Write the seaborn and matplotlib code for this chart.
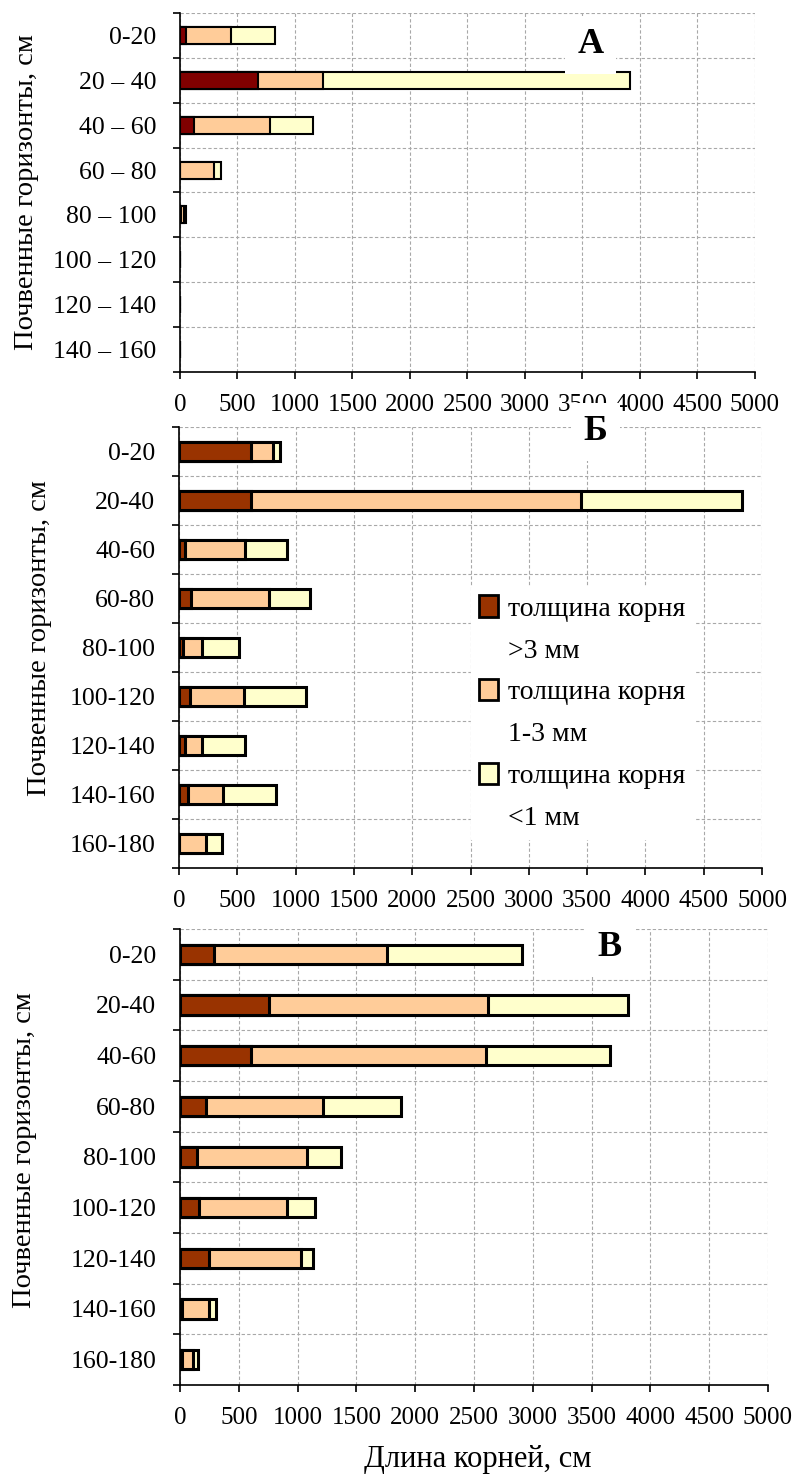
import matplotlib
matplotlib.use("Agg")
import matplotlib.pyplot as plt
import seaborn as sns
import pandas as pd
from matplotlib.patches import Patch

# Длина корней по горизонтам (см), три фракции толщины корня
cats_a = ['0-20', '20 – 40', '40 – 60', '60 – 80', '80 – 100',
          '100 – 120', '120 – 140', '140 – 160']
thick_a = [50, 680, 125, 0, 8, 0, 0, 0]
mid_a = [395, 565, 660, 300, 30, 0, 0, 0]
thin_a = [385, 2670, 375, 60, 16, 0, 0, 0]

cats_b = ['0-20', '20-40', '40-60', '60-80', '80-100',
          '100-120', '120-140', '140-160', '160-180']
thick_b = [615, 615, 50, 100, 30, 95, 50, 80, 0]
mid_b = [190, 2830, 520, 670, 170, 465, 150, 295, 228]
thin_b = [65, 1380, 360, 350, 315, 525, 365, 455, 137]

cats_c = ['0-20', '20-40', '40-60', '60-80', '80-100',
          '100-120', '120-140', '140-160', '160-180']
thick_c = [290, 755, 600, 225, 145, 165, 245, 15, 15]
mid_c = [1470, 1865, 2005, 995, 935, 745, 780, 230, 95]
thin_c = [1145, 1190, 1050, 660, 290, 240, 110, 60, 45]

legend_names = ['толщина корня', 'толщина корня', 'толщина корня']
legend_sizes = ['>3 мм', '1-3 мм', '<1 мм']
ylabel = 'Почвенные горизонты, см'
xlabel = 'Длина корней, см'

plt.rcParams['font.family'] = ['Liberation Serif', 'DejaVu Serif']

C_MID = '#FFCC99'
C_THIN = '#FFFFCC'

fig = plt.figure(figsize=(7.97, 14.79), dpi=100)


def draw_panel(ax, cats, thick, mid, thin, dark, lw, letter, lx, ly):
    df = pd.DataFrame({'cat': cats, 'thick': thick, 'mid': mid, 'thin': thin})
    df['s2'] = df['thick'] + df['mid']
    df['s3'] = df['s2'] + df['thin']
    # накопленные суммы, рисуем от большей к меньшей
    for col, colr in [('s3', C_THIN), ('s2', C_MID), ('thick', dark)]:
        sns.barplot(data=df, x=col, y='cat', order=cats, orient='h', color=colr,
                    saturation=1, edgecolor='black', linewidth=lw, width=0.38,
                    ax=ax, zorder=3)
    n = len(cats)
    ax.set_ylim(n - 0.5, -0.5)
    ax.set_xlim(0, 5000)
    ax.set_xlabel('')
    ax.set_ylabel('')
    ax.set_xticks(range(0, 5001, 500))
    ax.set_yticks([i - 0.5 for i in range(n + 1)], minor=True)
    ax.tick_params(axis='y', which='major', length=0, pad=17, labelsize=18.5)
    ax.tick_params(axis='y', which='minor', length=5, direction='out', width=1.2)
    ax.tick_params(axis='x', length=5, direction='out', width=1.2, pad=11, labelsize=18)
    ax.grid(False)
    ax.grid(True, axis='x', which='major', color='#a8a8a8', linestyle=(0, (3, 2)), linewidth=0.8, zorder=0)
    ax.grid(True, axis='y', which='minor', color='#a8a8a8', linestyle=(0, (3, 2)), linewidth=0.8, zorder=0)
    ax.set_axisbelow(True)
    for s in ['top', 'right']:
        ax.spines[s].set_visible(False)
    for s in ['left', 'bottom']:
        ax.spines[s].set_linewidth(1.2)
        ax.spines[s].set_color('black')
    ax.text(lx, ly, letter, fontsize=26, fontweight='bold', ha='center', va='center',
            zorder=10, clip_on=False,
            bbox=dict(facecolor='white', edgecolor='none', pad=9))


ax_a = fig.add_axes([0.2258, 0.7485, 0.7215, 0.2427])
draw_panel(ax_a, cats_a, thick_a, mid_a, thin_a, '#800000', 1.5, 'А', 3570, 0.21)

ax_b = fig.add_axes([0.2246, 0.4131, 0.7315, 0.2982])
draw_panel(ax_b, cats_b, thick_b, mid_b, thin_b, '#993300', 2.2, 'Б', 3570, -0.4)

ax_c = fig.add_axes([0.2258, 0.0636, 0.7378, 0.3083])
draw_panel(ax_c, cats_c, thick_c, mid_c, thin_c, '#993300', 2.2, 'В', 3650, -0.13)

# легенда: первая строка с квадратом, вторая строка без маркера
handles, labels = [], []
for c, name, size in zip(['#993300', C_MID, C_THIN], legend_names, legend_sizes):
    handles.append(Patch(facecolor=c, edgecolor='black', linewidth=2))
    labels.append(name)
    handles.append(Patch(facecolor='none', edgecolor='none'))
    labels.append(size)
leg = ax_b.legend(handles, labels, loc='upper left', bbox_to_anchor=(0.5, 0.637),
                  borderaxespad=0, frameon=True, facecolor='white', edgecolor='white',
                  framealpha=1, fancybox=False, fontsize=20, handlelength=0.7,
                  handleheight=0.8, handletextpad=0.35, labelspacing=0.56, borderpad=0.3)
leg.set_zorder(9)

fig.text(27 / 797, 1 - 192 / 1479, ylabel, rotation=90, ha='center', va='center', fontsize=20.5)
fig.text(40 / 797, 1 - 638 / 1479, ylabel, rotation=90, ha='center', va='center', fontsize=20.5)
fig.text(25 / 797, 1 - 1150 / 1479, ylabel, rotation=90, ha='center', va='center', fontsize=20.5)
fig.text(478 / 797, 1 - 1460 / 1479, xlabel, ha='center', va='center', fontsize=22)

fig.savefig('out.png', dpi=100)
